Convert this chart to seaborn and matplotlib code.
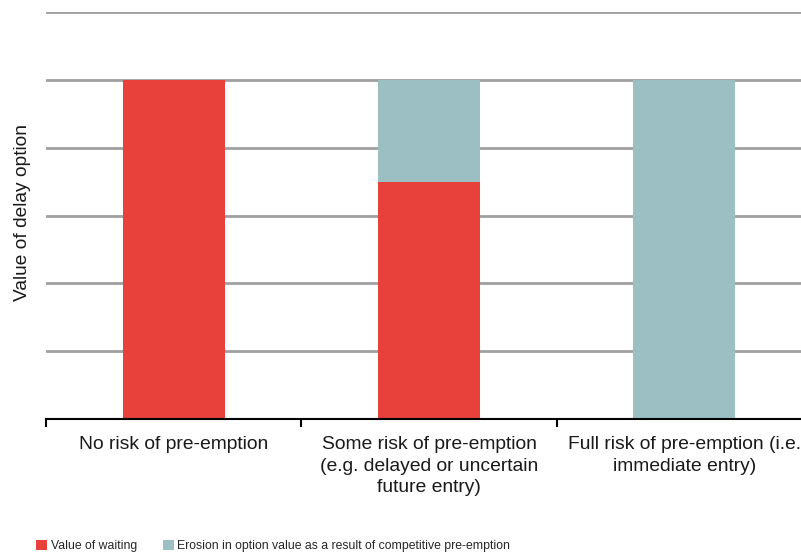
import matplotlib
matplotlib.use("Agg")
import matplotlib.pyplot as plt
from matplotlib.patches import Patch
import seaborn as sns
import pandas as pd

categories = [
    "No risk of pre-emption",
    "Some risk of pre-emption\n(e.g. delayed or uncertain\nfuture entry)",
    "Full risk of pre-emption (i.e.\nimmediate entry)",
]
value_of_waiting = [5.0, 3.5, 0.0]
erosion = [0.0, 1.5, 5.0]
series_names = ["Value of waiting",
                "Erosion in option value as a result of competitive pre-emption"]

RED = "#E8403A"
TEAL = "#9BBFC3"

sns.set_theme(style="white")
plt.rcParams["font.family"] = ["Liberation Sans", "DejaVu Sans"]

df = pd.DataFrame({
    "category": categories,
    "waiting": value_of_waiting,
    "total": [w + e for w, e in zip(value_of_waiting, erosion)],
})

fig = plt.figure(figsize=(8.01, 5.56), dpi=100)
ax = fig.add_axes([46 / 801, 1 - 419 / 556, 766 / 801, (419 - 12) / 556])

# stacked bars: full height in teal, the waiting part over it in red
sns.barplot(data=df, x="category", y="total", color=TEAL, width=0.4,
            saturation=1, linewidth=0, ax=ax, zorder=3)
sns.barplot(data=df, x="category", y="waiting", color=RED, width=0.4,
            saturation=1, linewidth=0, ax=ax, zorder=4)

ax.set_ylim(0, 6)
ax.set_xlim(-0.5, 2.5)
ax.set_yticks(range(0, 7))
ax.set_yticklabels([])
ax.yaxis.grid(True, color="#A0A0A0", linewidth=2)
ax.set_axisbelow(True)
for side in ["top", "right", "left"]:
    ax.spines[side].set_visible(False)
ax.spines["bottom"].set_color("black")
ax.spines["bottom"].set_linewidth(1.5)
ax.spines["bottom"].set_zorder(5)

ax.set_xticks([0, 1, 2])
ax.set_xticklabels(categories, fontsize=13.9, color="#1a1a1a", linespacing=1.33)
ax.tick_params(axis="x", which="major", length=0, pad=12.5)
ax.set_xticks([-0.5, 0.5, 1.5, 2.5], minor=True)
ax.tick_params(axis="x", which="minor", bottom=True, length=6, width=1.5,
               color="black", direction="out")
ax.tick_params(axis="y", length=0)

ax.set_xlabel("")
ax.set_ylabel("Value of delay option", fontsize=13.8, color="#1a1a1a")
ax.yaxis.set_label_coords(-0.02, 0.507)

handles = [Patch(facecolor=RED, edgecolor="none"),
           Patch(facecolor=TEAL, edgecolor="none")]
fig.legend(handles, series_names, loc="center", ncol=2,
           bbox_to_anchor=(273 / 801, 1 - 546 / 556), frameon=False,
           fontsize=8.85, handlelength=0.9, handleheight=0.9,
           handletextpad=0.3, columnspacing=2.1)

fig.savefig("out.png", dpi=100)
